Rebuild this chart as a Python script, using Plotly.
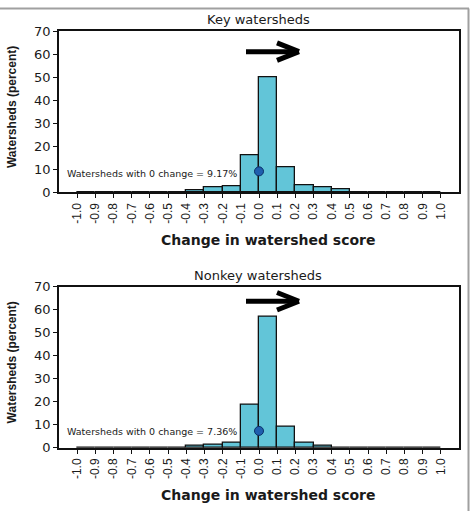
import plotly.graph_objects as go

W, H = 471, 519

# ---- data ----
bin_starts = [-1.0, -0.9, -0.8, -0.7, -0.6, -0.5, -0.4, -0.3, -0.2, -0.1,
              0.0, 0.1, 0.2, 0.3, 0.4, 0.5, 0.6, 0.7, 0.8, 0.9]
key_pct = [0, 0, 0, 0, 0.3, 0.3, 0.8, 2.1, 2.5, 16.3,
           50.2, 11.1, 3.0, 2.1, 1.2, 0.3, 0.3, 0, 0, 0]
nonkey_pct = [0, 0, 0, 0.3, 0.3, 0.3, 1.0, 1.4, 2.1, 18.6,
              57.0, 9.3, 2.1, 0.8, 0.3, 0.3, 0, 0, 0, 0]
tick_vals = [-1.0, -0.9, -0.8, -0.7, -0.6, -0.5, -0.4, -0.3, -0.2, -0.1, 0.0,
             0.1, 0.2, 0.3, 0.4, 0.5, 0.6, 0.7, 0.8, 0.9, 1.0]
tick_text = ["-1.0", "-0.9", "-0.8", "-0.7", "-0.6", "-0.5", "-0.4", "-0.3", "-0.2", "-0.1", "0.0",
             "0.1", "0.2", "0.3", "0.4", "0.5", "0.6", "0.7", "0.8", "0.9", "1.0"]
zero_x = [0.0]
key_zero = [9.17]
nonkey_zero = [7.36]
titles = ["Key watersheds", "Nonkey watersheds"]
notes = ["Watersheds with 0 change = 9.17%", "Watersheds with 0 change = 7.36%"]

BAR = "#62c5d8"
TXT = "#1a1a1a"
HFONT = "DejaVu Sans"
VFONT = "Liberation Sans"


def px(x):
    return x / W


def py(y):
    return 1 - y / H


fig = go.Figure()

panels = [
    dict(vals=key_pct, zero=key_zero, top=25, bot=191, xa="x", ya="y",
         title=titles[0], note=notes[0], arrow_y=46),
    dict(vals=nonkey_pct, zero=nonkey_zero, top=288, bot=454, xa="x2", ya="y2",
         title=titles[1], note=notes[1], arrow_y=303),
]

annotations = []
shapes = []
for i, p in enumerate(panels):
    fig.add_trace(go.Bar(x=bin_starts, y=p["vals"], width=0.1, offset=0,
                         marker=dict(color=BAR, line=dict(color="#111", width=1.3)),
                         xaxis=p["xa"], yaxis=p["ya"], showlegend=False, hoverinfo="skip"))
    fig.add_trace(go.Scatter(x=zero_x, y=p["zero"], mode="markers",
                             marker=dict(color="#1f5fae", size=9, line=dict(color="#0b2f66", width=1)),
                             xaxis=p["xa"], yaxis=p["ya"], showlegend=False, hoverinfo="skip"))
    axn = "" if i == 0 else "2"
    fig.update_layout(**{
        "xaxis" + axn: dict(domain=[px(59), px(459)], range=[-1.1, 1.1], anchor=p["ya"],
                            tickvals=tick_vals, ticktext=tick_text, tickangle=-90,
                            ticks="outside", ticklen=4, tickcolor="#111", tickwidth=1.3,
                            showline=True, linecolor="#111", linewidth=1.5, mirror=True,
                            showgrid=False, zeroline=False,
                            tickfont=dict(family=VFONT, size=12, color=TXT)),
        "yaxis" + axn: dict(domain=[py(p["bot"]), py(p["top"])], range=[0, 70], anchor=p["xa"],
                            tickvals=[0, 10, 20, 30, 40, 50, 60, 70],
                            ticks="outside", ticklen=4, tickcolor="#111", tickwidth=1.3,
                            showline=True, linecolor="#111", linewidth=1.5, mirror=True,
                            showgrid=False, zeroline=False,
                            tickfont=dict(family=HFONT, size=13, color=TXT)),
    })
    off = p["top"] - 25
    annotations += [
        dict(x=px(258), y=py(13 + off), xref="paper", yref="paper", text=p["title"],
             showarrow=False, font=dict(family=HFONT, size=13, color=TXT),
             xanchor="center", yanchor="middle"),
        dict(x=px(12), y=py(103 + off), xref="paper", yref="paper", text="<b>Watersheds (percent)</b>",
             showarrow=False, textangle=-90, font=dict(family=VFONT, size=12, color=TXT),
             xanchor="center", yanchor="middle"),
        dict(x=px(268), y=py(240 + off), xref="paper", yref="paper", text="<b>Change in watershed score</b>",
             showarrow=False, font=dict(family=HFONT, size=14, color=TXT),
             xanchor="center", yanchor="middle"),
        dict(x=px(65), y=py(171 + off + (3 if i == 1 else 0)), xref="paper", yref="paper", text=p["note"],
             showarrow=False, font=dict(family=HFONT, size=9.5, color=TXT),
             xanchor="left", yanchor="middle"),
    ]
    ay = p["arrow_y"]
    for (x0, y0, x1, y1) in [(246, ay, 297, ay), (277, ay - 9, 299, ay), (277, ay + 9, 299, ay)]:
        shapes.append(dict(type="line", xref="paper", yref="paper",
                           x0=px(x0), y0=py(y0), x1=px(x1), y1=py(y1),
                           line=dict(color="#000", width=5)))

# outer frame lines
shapes.append(dict(type="line", xref="paper", yref="paper", x0=0, y0=py(1.5), x1=px(469), y1=py(1.5),
                   line=dict(color="#a0a0a0", width=2)))
shapes.append(dict(type="line", xref="paper", yref="paper", x0=px(468.5), y0=py(1.5), x1=px(468.5), y1=0,
                   line=dict(color="#a0a0a0", width=2)))

fig.update_layout(width=W, height=H, margin=dict(l=0, r=0, t=0, b=0),
                  paper_bgcolor="white", plot_bgcolor="white",
                  annotations=annotations, shapes=shapes, bargap=0)

fig.write_html("out.html", config={"displayModeBar": False},
               post_script="document.body.style.margin='0';document.body.style.overflow='hidden';")
